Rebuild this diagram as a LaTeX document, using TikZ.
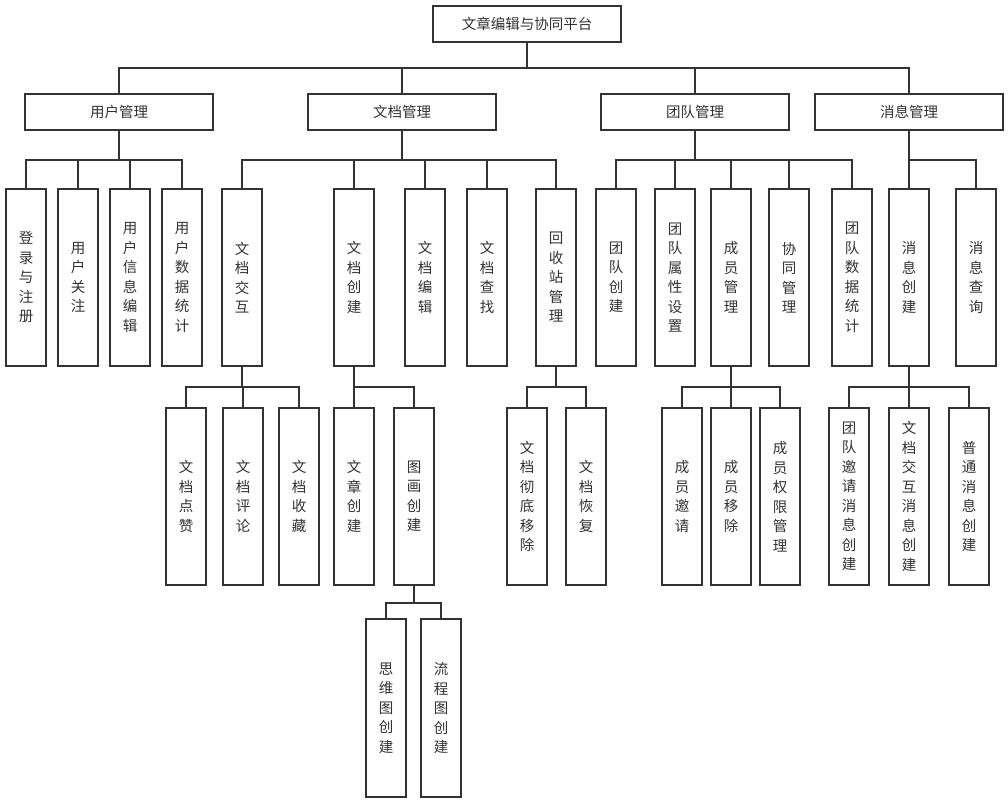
\documentclass[tikz,border=0pt]{standalone}
\usepackage{fontspec}
\setmainfont{Noto Sans CJK SC}
\definecolor{linec}{HTML}{333333}
\definecolor{textc}{HTML}{333333}
\begin{document}
\begin{tikzpicture}[x=1pt,y=-1pt,
  hbox/.style={draw=linec,line width=1.4pt,fill=white,minimum width=188pt,minimum height=36pt,inner sep=0pt,
    text=textc,font=\fontsize{14.5}{18}\selectfont},
  vbox/.style={draw=linec,line width=1.4pt,fill=white,minimum width=40pt,minimum height=177pt,inner sep=0pt,
    align=center,text=textc,font=\fontsize{14.5}{19.5}\selectfont},
  conn/.style={draw=linec,line width=1.4pt}]
\useasboundingbox (0,0) rectangle (1008,803);
\newcommand\lnk[3]{\draw[conn] (#1.south) -- (#1.south |- 0,#3) -| (#2.north);}
% root
\node[hbox] (root) at (527,24) {文章编辑与协同平台};
% level 1
\node[hbox] (yh) at (119,112) {用户管理};
\node[hbox] (wd) at (402,112) {文档管理};
\node[hbox] (td) at (695,112) {团队管理};
\node[hbox] (xx) at (909,112) {消息管理};
% level 2
\def\ly{277.5}
\node[vbox] (dl) at (26,\ly) {登\\录\\与\\注\\册};
\node[vbox] (gz) at (78,\ly) {用\\户\\关\\注};
\node[vbox] (xxbj) at (130,\ly) {用\\户\\信\\息\\编\\辑};
\node[vbox] (sjtj) at (182,\ly) {用\\户\\数\\据\\统\\计};
\node[vbox] (jh) at (242,\ly) {文\\档\\交\\互};
\node[vbox] (cj) at (354,\ly) {文\\档\\创\\建};
\node[vbox] (bj) at (425,\ly) {文\\档\\编\\辑};
\node[vbox] (cz) at (487,\ly) {文\\档\\查\\找};
\node[vbox] (hsz) at (556,\ly) {回\\收\\站\\管\\理};
\node[vbox] (tdcj) at (616,\ly) {团\\队\\创\\建};
\node[vbox] (sx) at (675,\ly) {团\\队\\属\\性\\设\\置};
\node[vbox] (cygl) at (731,\ly) {成\\员\\管\\理};
\node[vbox] (xt) at (789,\ly) {协\\同\\管\\理};
\node[vbox] (tdtj) at (852,\ly) {团\\队\\数\\据\\统\\计};
\node[vbox] (xxcj) at (909,\ly) {消\\息\\创\\建};
\node[vbox] (xxcx) at (976,\ly) {消\\息\\查\\询};
% level 3
\def\lz{496.5}
\node[vbox] (dz) at (186,\lz) {文\\档\\点\\赞};
\node[vbox] (pl) at (243,\lz) {文\\档\\评\\论};
\node[vbox] (sc) at (299,\lz) {文\\档\\收\\藏};
\node[vbox] (wzcj) at (354,\lz) {文\\章\\创\\建};
\node[vbox] (thcj) at (414,\lz) {图\\画\\创\\建};
\node[vbox] (ccyc) at (527,\lz) {文\\档\\彻\\底\\移\\除};
\node[vbox] (hf) at (586,\lz) {文\\档\\恢\\复};
\node[vbox] (yq) at (682,\lz) {成\\员\\邀\\请};
\node[vbox] (yc) at (731,\lz) {成\\员\\移\\除};
\node[vbox] (qx) at (780,\lz) {成\\员\\权\\限\\管\\理};
\node[vbox] (tdyq) at (849,\lz) {团\\队\\邀\\请\\消\\息\\创\\建};
\node[vbox] (wdjh) at (909,\lz) {文\\档\\交\\互\\消\\息\\创\\建};
\node[vbox] (pt) at (969,\lz) {普\\通\\消\\息\\创\\建};
% level 4
\node[vbox,minimum height=178pt] (sw) at (386,708) {思\\维\\图\\创\\建};
\node[vbox,minimum height=178pt] (lc) at (441,708) {流\\程\\图\\创\\建};
% connectors
\foreach \c in {yh,wd,td,xx} {\lnk{root}{\c}{68}}
\foreach \c in {dl,gz,xxbj,sjtj} {\lnk{yh}{\c}{160}}
\foreach \c in {jh,cj,bj,cz,hsz} {\lnk{wd}{\c}{160}}
\foreach \c in {tdcj,sx,cygl,xt,tdtj} {\lnk{td}{\c}{160}}
\foreach \c in {xxcj,xxcx} {\lnk{xx}{\c}{160}}
\foreach \c in {dz,pl,sc} {\lnk{jh}{\c}{387}}
\foreach \c in {wzcj,thcj} {\lnk{cj}{\c}{387}}
\foreach \c in {ccyc,hf} {\lnk{hsz}{\c}{387}}
\foreach \c in {yq,yc,qx} {\lnk{cygl}{\c}{387}}
\foreach \c in {tdyq,wdjh,pt} {\lnk{xxcj}{\c}{387}}
\foreach \c in {sw,lc} {\lnk{thcj}{\c}{603}}
\end{tikzpicture}
\end{document}
